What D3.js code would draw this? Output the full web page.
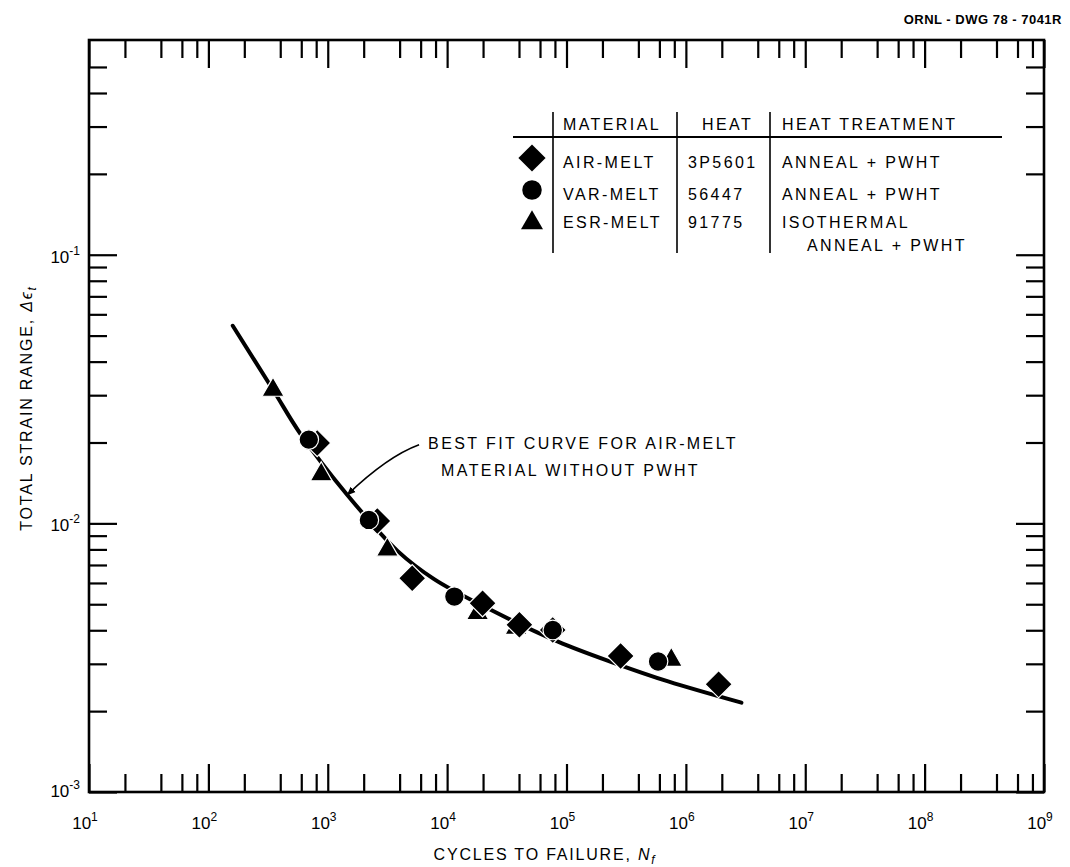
<!DOCTYPE html>
<html><head><meta charset="utf-8">
<script src="https://cdn.jsdelivr.net/npm/d3@7"></script>
<style>
body{margin:0;background:#fff;}
text{font-family:"Liberation Sans",Arial,sans-serif;fill:#000;}
</style></head><body>
<svg id="chart" width="1070" height="867"></svg>
<script>
// ---------- data ----------
const airMeltN      = [816, 2600, 5100, 19800, 40300, 76700, 284000, 1880000];
const airMeltStrain = [0.0199, 0.0102, 0.00625, 0.00504, 0.00419, 0.00401, 0.00321, 0.00252];
const varMeltN      = [694, 2210, 11500, 76700, 585000];
const varMeltStrain = [0.0205, 0.0103, 0.00534, 0.00401, 0.00306];
const esrMeltN      = [348, 882, 3160, 18000, 37800, 755000];
const esrMeltStrain = [0.0314, 0.0152, 0.00797, 0.00463, 0.00408, 0.0031];
const fitN      = [160, 350, 592, 1459, 3837, 7780, 20460, 84900, 252000, 710000, 2920000];
const fitStrain = [0.0544, 0.0313, 0.0215, 0.01276, 0.0079, 0.0062, 0.0049, 0.00363, 0.00302, 0.00258, 0.00215];

const xMajorExponents = [1, 2, 3, 4, 5, 6, 7, 8, 9];
const xMinorMultipliers = [2, 4, 6, 8];
const yMajorExponents = [-3, -2, -1];
const yMinorMultipliers = [2, 3, 4, 5, 6, 7, 8, 9];

const legendMaterials  = ["AIR-MELT", "VAR-MELT", "ESR-MELT"];
const legendHeats      = ["3P5601", "56447", "91775"];
const legendTreatments = ["ANNEAL + PWHT", "ANNEAL + PWHT", "ISOTHERMAL"];
const legendHeaders    = ["MATERIAL", "HEAT", "HEAT TREATMENT"];
const legendExtraLine  = "ANNEAL + PWHT";

const drawingNumber = "ORNL - DWG  78 - 7041R";
const xTitle = "CYCLES TO FAILURE, ";
const yTitle = "TOTAL  STRAIN  RANGE, ";
const annotationLines = ["BEST FIT CURVE FOR AIR-MELT", "MATERIAL  WITHOUT  PWHT"];

// ---------- layout ----------
const L = 89, R = 1044, T = 40, B = 792;
const svg = d3.select("#chart");

const x = d3.scaleLog().domain([1e1, 1e9]).range([L, R]);
const y = d3.scaleLog().domain([1e-3, 0.63]).range([B, T]);

const xMajor = xMajorExponents.map(e => Math.pow(10, e));
const xMinor = [];
xMajorExponents.slice(0, -1).forEach(e => xMinorMultipliers.forEach(m => xMinor.push(m * Math.pow(10, e))));
const yMajor = yMajorExponents.map(e => Math.pow(10, e));
const yMinor = [];
yMajorExponents.forEach(e => yMinorMultipliers.forEach(m => { const v = m * Math.pow(10, e); if (v < 0.55) yMinor.push(v); }));

function styleAxis(g, w) {
  g.select(".domain").remove();
  g.selectAll(".tick line").attr("stroke", "#000").attr("stroke-width", w);
  g.selectAll(".tick text").remove();
}
const minorLen = 18, majorLen = 28;
svg.append("g").attr("transform", `translate(0,${B})`)
  .call(d3.axisBottom(x).tickValues(xMinor).tickSize(-minorLen)).call(g => styleAxis(g, 2.2));
svg.append("g").attr("transform", `translate(0,${B})`)
  .call(d3.axisBottom(x).tickValues(xMajor).tickSize(-majorLen)).call(g => styleAxis(g, 2.2));
svg.append("g").attr("transform", `translate(0,${T})`)
  .call(d3.axisTop(x).tickValues(xMinor).tickSize(-minorLen)).call(g => styleAxis(g, 2.2));
svg.append("g").attr("transform", `translate(0,${T})`)
  .call(d3.axisTop(x).tickValues(xMajor).tickSize(-majorLen)).call(g => styleAxis(g, 2.2));
svg.append("g").attr("transform", `translate(${L},0)`)
  .call(d3.axisLeft(y).tickValues(yMinor).tickSize(-minorLen)).call(g => styleAxis(g, 2.2));
svg.append("g").attr("transform", `translate(${L},0)`)
  .call(d3.axisLeft(y).tickValues(yMajor).tickSize(-majorLen)).call(g => styleAxis(g, 2.2));
svg.append("g").attr("transform", `translate(${R},0)`)
  .call(d3.axisRight(y).tickValues(yMinor).tickSize(-minorLen)).call(g => styleAxis(g, 2.2));
svg.append("g").attr("transform", `translate(${R},0)`)
  .call(d3.axisRight(y).tickValues(yMajor).tickSize(-majorLen)).call(g => styleAxis(g, 2.2));

// frame
svg.append("rect").attr("x", L).attr("y", T).attr("width", R - L).attr("height", B - T)
  .attr("fill", "none").attr("stroke", "#000").attr("stroke-width", 2.6);

// tick labels
xMajorExponents.forEach(e => {
  const t = svg.append("text").attr("x", x(Math.pow(10, e)) - 4).attr("y", B + 37)
    .attr("text-anchor", "middle").attr("font-size", 17);
  t.append("tspan").text("10");
  t.append("tspan").attr("font-size", 12).attr("dy", -8).text(e);
});
yMajorExponents.forEach(e => {
  const t = svg.append("text").attr("x", L - 9).attr("y", y(Math.pow(10, e)) + (e === -3 ? 5 : 8))
    .attr("text-anchor", "end").attr("font-size", 17);
  t.append("tspan").text("10");
  t.append("tspan").attr("font-size", 12).attr("dy", -8).text(e);
});

// axis titles
const xt = svg.append("text").attr("x", 545).attr("y", 860).attr("text-anchor", "middle")
  .attr("font-size", 16).attr("letter-spacing", 1.8);
xt.append("tspan").text(xTitle);
xt.append("tspan").attr("font-style", "italic").text("N");
xt.append("tspan").attr("font-size", 12).attr("dy", 4).attr("font-style", "italic").text("f");

const yt = svg.append("text").attr("transform", "translate(32,408) rotate(-90)").attr("text-anchor", "middle")
  .attr("font-size", 16).attr("letter-spacing", 1.8);
yt.append("tspan").text(yTitle);
yt.append("tspan").attr("font-style", "italic").text("Δϵ");
yt.append("tspan").attr("font-size", 12).attr("dy", 4).attr("font-style", "italic").text("t");

// drawing number
svg.append("text").attr("x", 1062).attr("y", 24).attr("text-anchor", "end")
  .attr("font-size", 13).attr("font-weight", "bold").attr("letter-spacing", 0.5).text(drawingNumber);

// best-fit curve
const fitData = fitN.map((n, i) => [n, fitStrain[i]]);
svg.append("path").datum(fitData)
  .attr("d", d3.line().x(d => x(d[0])).y(d => y(d[1])).curve(d3.curveCatmullRom.alpha(0.5)))
  .attr("fill", "none").attr("stroke", "#000").attr("stroke-width", 4).attr("stroke-linecap", "round");

// symbols
const symDiamond = d3.symbol().type(d3.symbolSquare).size(370);
const symCircle = d3.symbol().type(d3.symbolCircle).size(300);
const symTriangle = d3.symbol().type(d3.symbolTriangle).size(210);
function drawSeries(ns, vals, sym, rot) {
  svg.append("g").selectAll("path").data(ns.map((n, i) => [n, vals[i]])).join("path")
    .attr("d", sym())
    .attr("transform", d => `translate(${x(d[0])},${y(d[1])}) rotate(${rot})`)
    .attr("fill", "#000").attr("stroke", "#fff").attr("stroke-width", 1.2);
}
drawSeries(esrMeltN, esrMeltStrain, symTriangle, 0);
drawSeries(airMeltN, airMeltStrain, symDiamond, 45);
drawSeries(varMeltN, varMeltStrain, symCircle, 0);

// annotation with arrow
const arrowStart = [5820, 0.0196], arrowCtrl = [3160, 0.01774], arrowTip = [1458, 0.01276];
svg.append("defs").append("marker").attr("id", "ah").attr("viewBox", "0 0 10 10")
  .attr("refX", 9).attr("refY", 5).attr("markerWidth", 9).attr("markerHeight", 9)
  .attr("markerUnits", "userSpaceOnUse").attr("orient", "auto")
  .append("path").attr("d", "M0,1 L10,5 L0,9 Z").attr("fill", "#000");
const ap = d3.path();
ap.moveTo(x(arrowStart[0]), y(arrowStart[1]));
ap.quadraticCurveTo(x(arrowCtrl[0]), y(arrowCtrl[1]), x(arrowTip[0]), y(arrowTip[1]));
svg.append("path").attr("d", ap.toString()).attr("fill", "none").attr("stroke", "#000")
  .attr("stroke-width", 1.6).attr("marker-end", "url(#ah)");
svg.append("text").attr("x", x(arrowStart[0]) + 9).attr("y", y(arrowStart[1]) + 4)
  .attr("font-size", 16).attr("letter-spacing", 2.4).text(annotationLines[0]);
svg.append("text").attr("x", x(arrowStart[0]) + 22).attr("y", y(arrowStart[1]) + 31)
  .attr("font-size", 16).attr("letter-spacing", 2.4).text(annotationLines[1]);

// legend table
const lg = svg.append("g").attr("font-size", 16).attr("letter-spacing", 2.4);
const colLines = [553, 677, 770];
colLines.forEach(cx => lg.append("line").attr("x1", cx).attr("x2", cx).attr("y1", 112).attr("y2", 253)
  .attr("stroke", "#000").attr("stroke-width", 1.6));
lg.append("line").attr("x1", 513).attr("x2", 1002).attr("y1", 137).attr("y2", 137)
  .attr("stroke", "#000").attr("stroke-width", 1.8);
const headerX = [563, 702, 782];
legendHeaders.forEach((h, i) => lg.append("text").attr("x", headerX[i]).attr("y", 130).text(h));
const rowY = [168, 200, 228];
const symY = [158, 190, 223];
const legendSyms = [[symDiamond, 45], [symCircle, 0], [symTriangle, 0]];
legendMaterials.forEach((m, i) => {
  lg.append("text").attr("x", 563).attr("y", rowY[i]).text(m);
  lg.append("text").attr("x", 688).attr("y", rowY[i]).text(legendHeats[i]);
  lg.append("text").attr("x", 782).attr("y", rowY[i]).text(legendTreatments[i]);
  lg.append("path").attr("d", legendSyms[i][0]())
    .attr("transform", `translate(532,${symY[i]}) rotate(${legendSyms[i][1]})`).attr("fill", "#000");
});
lg.append("text").attr("x", 807).attr("y", 251).text(legendExtraLine);
</script>
</body></html>
